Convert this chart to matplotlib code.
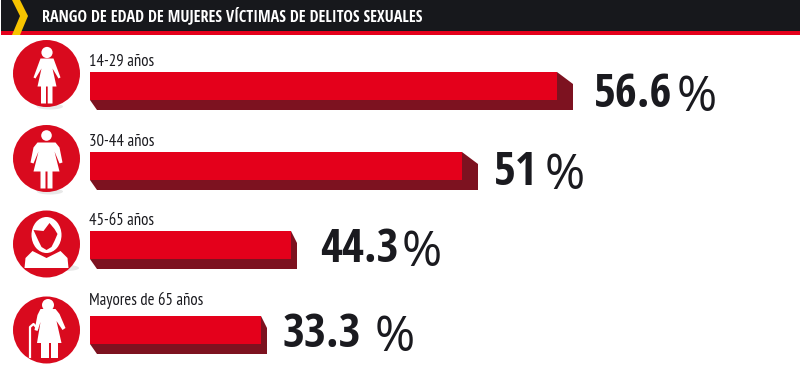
import matplotlib
matplotlib.use('Agg')
import matplotlib.pyplot as plt
from matplotlib.patches import Circle, Polygon, Rectangle, Ellipse

# Datos
categorias = ['14-29 años', '30-44 años', '45-65 años', 'Mayores de 65 años']
valores = ['56.6', '51', '44.3', '33.3']
# las barras del original no son proporcionales al valor: largo leido en pixeles
largo_barra = [467, 372, 201, 171]
titulo = 'RANGO DE EDAD DE MUJERES VÍCTIMAS DE DELITOS SEXUALES'

# Posicion de cada fila
y_barra = [72, 152, 231, 316]
y_circulo = [73.5, 158.5, 244, 330]
y_texto = [62, 142, 221, 300]
y_numero = [107, 185, 262, 347]
x_numero = [594, 494, 320, 282]
x_pct = [677, 545, 402, 375]
# sombra bajo cada circulo (la ultima fila casi no tiene)
x_sombra = [50, 50, 66, 50]
dy_sombra = [33, 33, 24, 33]
color_sombra = ['#e8e8e8', '#e8e8e8', '#e8e8e8', '#ffffff']

ROJO = '#e4001b'
OSCURO = '#7d1220'
CIRC = '#d90a1e'
NEGRO = '#1a1a1f'
# si falta la angosta sigue con Lato
ANGOSTA = ['Open Sans Condensed', 'Lato']
ETIQUETA = ['PT Sans Narrow', 'Lato']

fig = plt.figure(figsize=(8, 3.89), dpi=100)
ax = fig.add_axes([0, 0, 1, 1])
ax.set_xlim(0, 800)
ax.set_ylim(389, 0)
ax.axis('off')

# Cabecera
ax.add_patch(Rectangle((1, 0), 799, 32, color='#17181c', lw=0))
ax.add_patch(Rectangle((1, 31), 799, 4, color=ROJO, lw=0))
ax.add_patch(Polygon([(12, 0), (20, 0), (28, 16), (20, 35), (12, 35), (20, 16)], color='#f7c400', lw=0))
ax.text(42, 16, titulo, color='white', fontsize=11.65, fontweight='bold', family=ANGOSTA, va='center')


def mujer(cx, cy):
    ax.add_patch(Circle((cx + 0.5, cy - 21), 5.6, color='white', lw=0))
    ax.add_patch(Polygon([(cx - 6, cy - 15), (cx + 7, cy - 15), (cx + 14, cy + 4), (cx + 12, cy + 5), (cx + 6, cy - 5),
                          (cx + 10, cy + 13), (cx + 6, cy + 13), (cx + 6, cy + 30), (cx + 1.2, cy + 30), (cx + 1.2, cy + 13),
                          (cx - 0.5, cy + 13), (cx - 0.5, cy + 30), (cx - 5.5, cy + 30), (cx - 5.5, cy + 13),
                          (cx - 9, cy + 13), (cx - 5, cy - 5), (cx - 11, cy + 5), (cx - 13, cy + 4)], color='white', lw=0))


def mujer_ancha(cx, cy):
    ax.add_patch(Circle((cx, cy - 23), 5.3, color='white', lw=0))
    ax.add_patch(Polygon([(cx - 9, cy - 16), (cx + 9, cy - 16), (cx + 13, cy - 11), (cx + 16, cy + 4), (cx + 13, cy + 5),
                          (cx + 8, cy - 7), (cx + 13, cy + 13), (cx + 6, cy + 13), (cx + 6, cy + 30), (cx + 1, cy + 30),
                          (cx + 1, cy + 13), (cx - 1, cy + 13), (cx - 1, cy + 30), (cx - 6, cy + 30), (cx - 6, cy + 13),
                          (cx - 13, cy + 13), (cx - 8, cy - 7), (cx - 13, cy + 5), (cx - 16, cy + 4), (cx - 13, cy - 11)],
                         color='white', lw=0))


def busto(cx, cy):
    ax.add_patch(Polygon([(cx - 22, cy + 24), (cx + 22, cy + 24), (cx + 21, cy + 14), (cx + 14, cy + 7), (cx, cy + 14),
                          (cx - 14, cy + 7), (cx - 21, cy + 14)], color='white', lw=0))
    ax.add_patch(Ellipse((cx, cy - 9), 30, 36, color='white', lw=0))
    ax.add_patch(Polygon([(cx - 13, cy - 14), (cx - 3, cy - 13), (cx + 3, cy - 21), (cx + 8, cy - 15), (cx + 11, cy - 10),
                          (cx + 8, cy - 3), (cx + 5, cy + 3), (cx, cy + 6), (cx - 5, cy + 3), (cx - 8, cy - 3)], color=CIRC, lw=0))
    ax.plot([cx - 1, cx + 4, cx + 7], [cy - 24, cy - 22, cy - 18], color='white', lw=1)


def anciana(cx, cy):
    ax.add_patch(Circle((cx + 1.5, cy - 25), 6, color='white', lw=0))
    ax.add_patch(Polygon([(cx - 6, cy - 21), (cx + 9, cy - 21), (cx + 13, cy - 16), (cx + 19, cy - 2), (cx + 16, cy),
                          (cx + 10, cy - 9), (cx + 15, cy + 13), (cx + 11.5, cy + 13), (cx + 11.5, cy + 28), (cx + 4.5, cy + 28),
                          (cx + 4.5, cy + 13), (cx + 2.5, cy + 13), (cx + 2.5, cy + 28), (cx - 5.5, cy + 28), (cx - 5.5, cy + 13),
                          (cx - 9.5, cy + 13), (cx - 6, cy - 8), (cx - 9, cy + 1), (cx - 12, cy), (cx - 9, cy - 15)],
                         color='white', lw=0))
    ax.plot([cx - 16.5, cx - 16.5, cx - 13, cx - 9.5], [cy + 27, cy - 3, cy - 6, cy - 2], color='white', lw=1.6)


iconos = [mujer, mujer_ancha, busto, anciana]

# Filas
for i in range(len(categorias)):
    x0 = 90
    y0 = y_barra[i]
    w = largo_barra[i]
    fondo = 16 if w > 300 else 6
    # cara lateral e inferior, luego el frente
    ax.add_patch(Polygon([(x0, y0 + 28), (x0 + w, y0 + 28), (x0 + w, y0), (x0 + w + fondo, y0 + 12), (x0 + w + fondo, y0 + 38),
                          (x0 + 7, y0 + 38)], color=OSCURO, lw=0))
    ax.add_patch(Rectangle((x0, y0), w, 28, color=ROJO, lw=0))

    cy = y_circulo[i]
    ax.add_patch(Ellipse((x_sombra[i], cy + dy_sombra[i]), 26, 6, color=color_sombra[i], lw=0))
    ax.add_patch(Circle((46.5, cy), 33.5, color=CIRC, lw=0))
    iconos[i](46.5, cy)

    ax.text(89, y_texto[i], categorias[i], color=NEGRO, fontsize=12, family=ETIQUETA, va='center')
    ax.text(x_numero[i], y_numero[i], valores[i], color=NEGRO, fontsize=34, fontweight='bold', family=ANGOSTA, va='baseline')
    ax.text(x_pct[i], y_numero[i] + 4, '%', color=NEGRO, fontsize=35, family='Open Sans', va='baseline')

fig.savefig('out.png', dpi=100)
